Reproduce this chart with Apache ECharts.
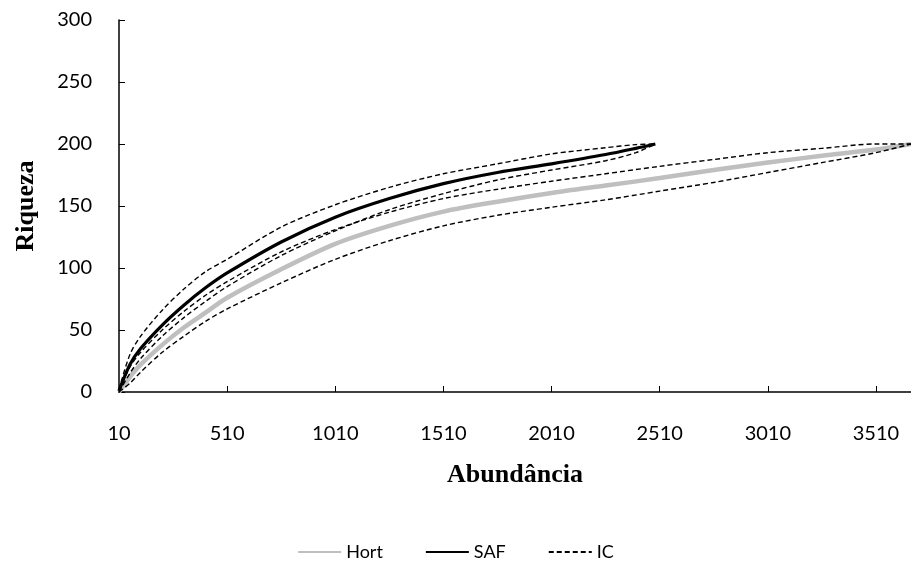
<!DOCTYPE html>
<html>
<head>
<meta charset="utf-8">
<script src="https://cdn.jsdelivr.net/npm/echarts@6/dist/echarts.min.js"></script>
<style>html,body{margin:0;padding:0;background:#fff}#chart{width:911px;height:563px}</style>
</head>
<body>
<div id="chart"></div>
<script>
// Abundance sample points (x) and richness values
var safX     = [10, 60, 110, 210, 310, 410, 510, 760, 1010, 1260, 1510, 1760, 2010, 2260, 2400, 2490];
var safMean  = [1, 22, 35, 54, 70, 84, 96, 121, 141, 156, 168, 177, 184, 191.5, 196.5, 200];
var safUpper = [2, 30, 45, 66, 83, 97, 107, 133, 151, 165, 176, 184, 192, 197, 199.5, 200];
var safLower = [0, 15, 27, 45, 60, 73, 85, 110, 130, 147, 160, 171, 179, 186.5, 193, 200];

var hortX     = [10, 60, 110, 210, 310, 410, 510, 760, 1010, 1260, 1510, 1760, 2010, 2260, 2510, 2760, 3010, 3260, 3510, 3672];
var hortMean  = [0, 12, 22, 38, 52, 64, 76, 99, 119.5, 134, 145.5, 153.5, 160.5, 166.5, 172.5, 179, 185, 190.5, 195.5, 200];
var hortUpper = [1, 20, 32, 50, 65, 78, 89, 113, 131, 145, 156, 163.5, 170, 176, 182, 187.5, 193, 196.5, 200, 200];
var hortLower = [0, 7, 16, 32, 45, 57, 67, 88, 107, 122, 134, 142.5, 149, 155, 162, 169, 177, 185, 193, 200];

var xTicks = [10, 510, 1010, 1510, 2010, 2510, 3010, 3510];
var xMin = 10, xMax = 3672;
var yMin = 0, yMax = 300, yStep = 50;

function pairs(xs, ys) { return xs.map(function (x, i) { return [x, ys[i]]; }); }

var labelFont = { fontFamily: 'Lato', fontSize: 20, color: '#000' };
var titleFont = { fontFamily: 'Liberation Serif', fontWeight: 'bold', fontSize: 26, color: '#000' };

var chart = echarts.init(document.getElementById('chart'), null, { renderer: 'canvas' });
var icStyle = { color: '#000', width: 1.4, type: [5, 3] };
chart.setOption({
  animation: false,
  backgroundColor: '#fff',
  grid: { left: 119, top: 20, right: 0, bottom: 171, containLabel: false },
  legend: {
    data: ['Hort', 'SAF', 'IC'],
    top: 538,
    left: 'center',
    itemWidth: 43,
    itemHeight: 12,
    itemGap: 42,
    itemStyle: { opacity: 0 },
    textStyle: { fontFamily: 'Lato', fontSize: 18, color: '#000' }
  },
  xAxis: {
    type: 'value', min: xMin, max: xMax,
    name: 'Abundância', nameLocation: 'middle', nameGap: 70,
    nameTextStyle: titleFont,
    axisLine: { lineStyle: { color: '#000', width: 1.5 } },
    axisTick: { inside: true, length: 6, customValues: xTicks, lineStyle: { color: '#000', width: 1 } },
    axisLabel: Object.assign({ customValues: xTicks, margin: 32, formatter: function (v) { return String(v); } }, labelFont),
    splitLine: { show: false }
  },
  yAxis: {
    type: 'value', min: yMin, max: yMax, interval: yStep,
    name: 'Riqueza', nameLocation: 'middle', nameGap: 80, nameRotate: 90,
    nameTextStyle: titleFont,
    axisLine: { show: true, lineStyle: { color: '#000', width: 1.5 } },
    axisTick: { show: true, inside: true, length: 6, lineStyle: { color: '#000', width: 1 } },
    axisLabel: Object.assign({ margin: 27 }, labelFont),
    splitLine: { show: false }
  },
  series: [
    { name: 'Hort', type: 'line', data: pairs(hortX, hortMean), symbol: 'none', smooth: 0.3,
      lineStyle: { color: '#bfbfbf', width: 4.5 }, itemStyle: { color: '#bfbfbf' } },
    { name: 'SAF', type: 'line', data: pairs(safX, safMean), symbol: 'none', smooth: 0.3,
      lineStyle: { color: '#000', width: 3.2 }, itemStyle: { color: '#000' } },
    { name: 'IC', type: 'line', data: pairs(safX, safUpper), symbol: 'none', smooth: 0.3,
      lineStyle: icStyle, itemStyle: { color: '#000' } },
    { name: 'IC', type: 'line', data: pairs(safX, safLower), symbol: 'none', smooth: 0.3,
      lineStyle: icStyle, itemStyle: { color: '#000' } },
    { name: 'IC', type: 'line', data: pairs(hortX, hortUpper), symbol: 'none', smooth: 0.3,
      lineStyle: icStyle, itemStyle: { color: '#000' } },
    { name: 'IC', type: 'line', data: pairs(hortX, hortLower), symbol: 'none', smooth: 0.3,
      lineStyle: icStyle, itemStyle: { color: '#000' } }
  ]
});
</script>
</body>
</html>
